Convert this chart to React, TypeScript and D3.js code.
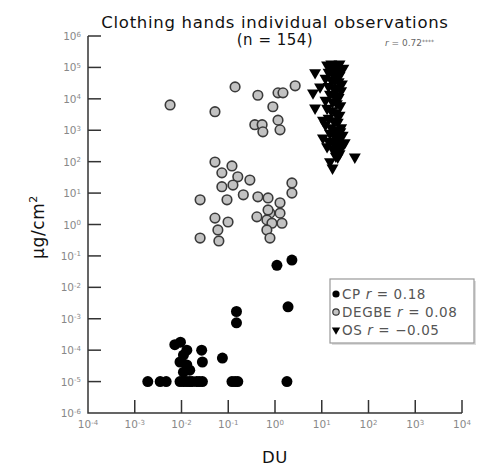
import React from 'react'
import * as d3 from 'd3'

// CP (black circles)
const cpX = [0.0019, 0.0035, 0.0047, 0.0093, 0.011, 0.013, 0.015, 0.017, 0.021, 0.024, 0.028, 0.12, 0.14, 0.16, 1.8,
  0.0072, 0.0095, 0.013, 0.011, 0.0093, 0.013, 0.015, 0.011, 0.027, 0.028, 0.075, 0.15, 0.15, 1.9, 1.1, 2.3]
const cpY = [1e-5, 1e-5, 1e-5, 1e-5, 1e-5, 1e-5, 1e-5, 1e-5, 1e-5, 1e-5, 1e-5, 1e-5, 1e-5, 1e-5, 1e-5,
  1.5e-4, 1.8e-4, 1.0e-4, 7e-5, 4.2e-5, 3.4e-5, 2.3e-5, 2e-5, 1.0e-4, 4.2e-5, 5.6e-5, 1.7e-3, 7.4e-4, 2.4e-3, 0.05, 0.074]

// DEGBE (grey circles)
const degX = [0.0057, 0.052, 0.14, 0.43, 1.16, 1.48, 2.7, 0.9, 0.37, 0.53, 0.55, 1.16, 1.28,
  0.052, 0.12, 0.073, 0.16, 0.29, 0.073, 0.126, 0.21, 0.094, 0.025, 2.3, 2.3, 0.43, 0.71, 1.28,
  0.052, 0.099, 0.06, 0.025, 0.063, 0.41, 0.78, 0.67, 1.28, 0.86, 1.41, 0.67, 0.78, 0.71]
const degY = [6400, 3900, 24000, 13000, 15500, 15500, 26000, 5600, 1500, 1500, 890, 2100, 1030,
  97, 73, 44, 33, 26, 16, 18, 8.8, 6.1, 6.1, 21, 10, 7.6, 7.0, 4.9,
  1.6, 1.2, 0.67, 0.37, 0.30, 1.75, 2.3, 1.4, 2.3, 1.1, 1.1, 0.67, 0.37, 2.9]

// OS (black down triangles)
const osX = [13, 16, 19, 22, 15, 18, 21, 25, 14, 17, 20, 24, 12, 16, 19, 23, 27, 14, 18, 21, 26, 15, 19, 23,
  17, 21, 25, 13, 16, 20, 24, 14, 18, 22, 12, 16, 20, 25, 15, 19, 23, 14, 18, 22, 27, 17, 21, 24, 20,
  7.2, 9.2, 6.5, 7.2, 10.6, 10.6, 31, 22, 51, 17, 13, 28, 24, 29, 12, 26, 15]
const osY = [120000, 130000, 125000, 110000, 95000, 100000, 90000, 80000, 70000, 65000, 60000, 55000, 45000,
  40000, 38000, 35000, 30000, 25000, 22000, 20000, 18000, 14000, 12000, 11000, 8000, 7000, 6000, 5000, 4200,
  3600, 3000, 2400, 2000, 1800, 1500, 1200, 1000, 900, 800, 650, 550, 450, 400, 350, 300, 260, 220, 180, 150,
  68000, 24000, 15500, 5100, 2100, 570, 400, 140, 140, 63, 300, 700, 130000, 95000, 9000, 1200, 100]

const xExps = [-4, -3, -2, -1, 0, 1, 2, 3, 4]
const yExps = [-6, -5, -4, -3, -2, -1, 0, 1, 2, 3, 4, 5, 6]

const legendNames = ['CP', 'DEGBE', 'OS']
const legendR = ['0.18', '0.08', '\u22120.05']

const font = '"DejaVu Sans", sans-serif'

const x = d3.scaleLog().domain([1e-4, 1e4]).range([88, 462])
const y = d3.scaleLog().domain([1e-6, 1e6]).range([413, 36])

const tri = d3.symbol(d3.symbolTriangle, 62)()
const triSmall = d3.symbol(d3.symbolTriangle, 30)()

const Pow = ({ e }: { e: number }) => (
  <>
    10<tspan dy="-0.5em" fontSize="7">{e}</tspan>
  </>
)

export default function App() {
  const tick = 13
  return (
    <svg width={477} height={468} style={{ position: 'absolute', left: 0, top: 0, background: '#fff' }} fontFamily={font}>
      <text x={275} y={28} textAnchor="middle" fontSize={16.5} letterSpacing={0.7} fill="#111">Clothing hands individual observations</text>
      <text x={275} y={45} textAnchor="middle" fontSize={15} letterSpacing={0.5} fill="#111">(n = 154)</text>
      <text x={434} y={46} textAnchor="end" fontSize={9} fill="#666">
        <tspan fontStyle="italic">r</tspan> = 0.72<tspan dy="-0.4em" fontSize="6">****</tspan>
      </text>

      {/* axes */}
      <path d={`M${x(1e-4)},${y(1e6)}V${y(1e-6)}H${x(1e4)}`} fill="none" stroke="#333" strokeWidth={1.5} />
      {yExps.map(e => (
        <g key={'y' + e}>
          {e > -6 && <line x1={x(1e-4)} x2={x(1e-4) + tick} y1={y(10 ** e)} y2={y(10 ** e)} stroke="#333" strokeWidth={1.5} />}
          <text x={81} y={y(10 ** e) + 4} textAnchor="end" fontSize={10.5} fill="#888"><Pow e={e} /></text>
        </g>
      ))}
      {xExps.map(e => (
        <g key={'x' + e}>
          {e > -4 && <line x1={x(10 ** e)} x2={x(10 ** e)} y1={y(1e-6)} y2={y(1e-6) - tick} stroke="#333" strokeWidth={1.5} />}
          <text x={x(10 ** e)} y={428} textAnchor="middle" fontSize={10.5} fill="#888"><Pow e={e} /></text>
        </g>
      ))}
      <text x={275} y={463} textAnchor="middle" fontSize={16.5} letterSpacing={0.5} fill="#111">DU</text>
      <text transform="translate(44,227) rotate(-90)" textAnchor="middle" fontSize={17} letterSpacing={0.6} fill="#111">
        µg/cm<tspan dy="-0.6em" fontSize="11">2</tspan>
      </text>

      {/* points */}
      {degX.map((v, i) => (
        <circle key={'d' + i} cx={x(v)} cy={y(degY[i])} r={4.8} fill="#c2c2c2" stroke="#3a3a3a" strokeWidth={1.6} />
      ))}
      {cpX.map((v, i) => (
        <circle key={'c' + i} cx={x(v)} cy={y(cpY[i])} r={5.5} fill="#000" />
      ))}
      {osX.map((v, i) => (
        <path key={'o' + i} d={tri} transform={`translate(${x(v)},${y(osY[i])}) rotate(180)`} fill="#000" />
      ))}

      {/* legend */}
      <g>
        <rect x={332} y={281} width={144} height={64} fill="#ddd" />
        <rect x={330} y={279} width={144} height={64} fill="#fff" stroke="#999" strokeWidth={1.2} />
        {legendNames.map((n, i) => {
          const cy = 294 + i * 18
          return (
            <g key={n}>
              {i === 0 && <circle cx={336} cy={cy} r={3.6} fill="#000" />}
              {i === 1 && <circle cx={336} cy={cy} r={3.2} fill="#c2c2c2" stroke="#333" strokeWidth={1.2} />}
              {i === 2 && <path d={triSmall} transform={`translate(336,${cy}) rotate(180)`} fill="#000" />}
              <text x={342} y={cy + 5} fontSize={13.5} letterSpacing={0.6} fill="#555">
                {n} <tspan fontStyle="italic">r</tspan> = {legendR[i]}
              </text>
            </g>
          )
        })}
      </g>
    </svg>
  )
}
